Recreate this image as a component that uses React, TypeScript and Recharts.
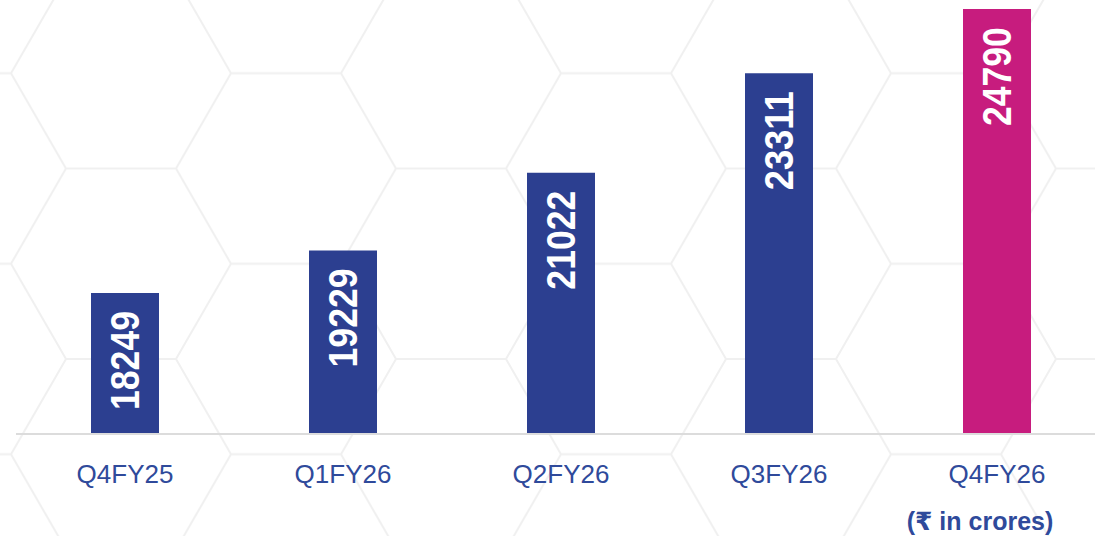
import { BarChart, Bar, XAxis, YAxis, Cell, LabelList } from 'recharts';

const quarters = ['Q4FY25', 'Q1FY26', 'Q2FY26', 'Q3FY26', 'Q4FY26'];
const revenue = [18249, 19229, 21022, 23311, 24790];
const barColors = ['#2C3F90', '#2C3F90', '#2C3F90', '#2C3F90', '#C71C7E'];
const unitNote = '(₹ in crores)';

const data = quarters.map((q, i) => ({ quarter: q, value: revenue[i] }));

const FONT = '"Liberation Sans", Arial, "DejaVu Sans", sans-serif';

function BarValue(props: any) {
    const { x, y, width, value } = props;
    const cx = Number(x) + Number(width) / 2;
    const ty = Number(y) + 18;
    return (
        <text
            x={cx}
            y={ty}
            transform={`rotate(-90, ${cx}, ${ty})`}
            textAnchor="end"
            dominantBaseline="central"
            fill="#ffffff"
            fontSize={40}
            fontWeight={700}
            fontFamily={FONT}
            textLength={99}
            lengthAdjust="spacingAndGlyphs"
        >
            {value}
        </text>
    );
}

function HexBackground() {
    return (
        <svg
            width={1095}
            height={536}
            style={{ position: 'absolute', left: 0, top: 0 }}
        >
            <defs>
                <pattern
                    id="hex"
                    width={330}
                    height={190.5}
                    patternUnits="userSpaceOnUse"
                    patternTransform="translate(-44,-22)"
                >
                    <path
                        d="M55,95.25 L110,0 L220,0 L275,95.25 L220,190.5 L110,190.5 Z M0,95.25 L55,95.25 M275,95.25 L330,95.25"
                        fill="none"
                        stroke="#f0f0f0"
                        strokeWidth={2}
                    />
                </pattern>
            </defs>
            <rect x={0} y={0} width={1095} height={536} fill="url(#hex)" />
        </svg>
    );
}

export default function App() {
    return (
        <div
            style={{
                position: 'absolute',
                left: 0,
                top: 0,
                width: 1095,
                height: 536,
                overflow: 'hidden',
                background: '#ffffff',
            }}
        >
            <HexBackground />
            <div style={{ position: 'absolute', left: 0, top: 0 }}>
                <BarChart
                    width={1106}
                    height={536}
                    data={data}
                    margin={{ top: 0, right: 0, bottom: 42, left: 16 }}
                >
                    <XAxis
                        dataKey="quarter"
                        height={60}
                        tickLine={false}
                        tickSize={0}
                        tickMargin={31}
                        axisLine={{ stroke: '#dcdcdc', strokeWidth: 2 }}
                        tick={{ fill: '#2F4A9B', fontSize: 26, fontFamily: FONT }}
                        interval={0}
                    />
                    <YAxis hide domain={[15000, 25000]} allowDataOverflow />
                    <Bar dataKey="value" barSize={68} isAnimationActive={false}>
                        {data.map((_, i) => (
                            <Cell key={`c-${i}`} fill={barColors[i]} />
                        ))}
                        <LabelList dataKey="value" content={BarValue} />
                    </Bar>
                </BarChart>
            </div>
            <div
                style={{
                    position: 'absolute',
                    left: 880,
                    top: 509,
                    width: 200,
                    textAlign: 'center',
                    fontFamily: FONT,
                    fontWeight: 700,
                    fontSize: 25,
                    lineHeight: '25px',
                    color: '#2F4A9B',
                }}
            >
                {unitNote}
            </div>
        </div>
    );
}
